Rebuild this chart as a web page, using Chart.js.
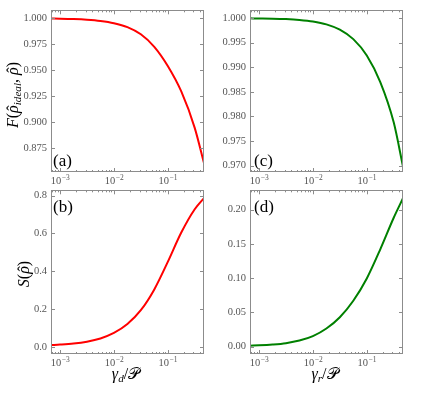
<!DOCTYPE html>
<html>
<head>
<meta charset="utf-8">
<script src="https://cdn.jsdelivr.net/npm/chart.js@4"></script>
<style>
  body { margin: 0; background: #fff; }
  #fig { position: relative; width: 424px; height: 394px; overflow: hidden; font-family: 'Liberation Serif', serif; }
  .box { position: absolute; }
  .lbl { position: absolute; white-space: nowrap; font-size: 16px; color: #000; line-height: 1; }
  .rot { transform: translate(-50%, -50%) rotate(-90deg); }
  .ctr { transform: translate(-50%, -50%); }
  .tag { position: absolute; font-size: 17px; line-height: 1; }
  sub { font-size: 70%; vertical-align: -0.3em; }
  .hat { position: relative; display: inline-block; }
  .hat .h { position: absolute; left: 0.14em; top: -0.02em; font-style: normal; }
</style>
</head>
<body>
<div id="fig">
  <div class="box" style="left:0;top:0;width:212px;height:186px"><canvas id="chartA"></canvas></div>
  <div class="box" style="left:212px;top:0;width:212px;height:186px"><canvas id="chartC"></canvas></div>
  <div class="box" style="left:0;top:180px;width:212px;height:200px"><canvas id="chartB"></canvas></div>
  <div class="box" style="left:212px;top:180px;width:212px;height:200px"><canvas id="chartD"></canvas></div>

  <div class="lbl rot" style="left:14px;top:95px"><i>F</i>(<i class="hat">ρ<span class="h">ˆ</span></i><sub><i>ideal</i></sub>, <i class="hat">ρ<span class="h">ˆ</span></i>)</div>
  <div class="lbl rot" style="left:24px;top:274px"><i>S</i>(<i class="hat">ρ<span class="h">ˆ</span></i>)</div>
  <div class="lbl ctr" style="left:126px;top:375px"><i>γ</i><sub><i>d</i></sub>/𝒫</div>
  <div class="lbl ctr" style="left:325px;top:375px"><i>γ</i><sub><i>r</i></sub>/𝒫</div>

  <div class="tag" style="left:53px;top:152px">(a)</div>
  <div class="tag" style="left:53px;top:198px">(b)</div>
  <div class="tag" style="left:254px;top:152px">(c)</div>
  <div class="tag" style="left:254px;top:198px">(d)</div>
</div>
<script>
// x values: gamma / P (log axis)
const gamma = [0.00068, 0.001, 0.00178, 0.00316, 0.00562, 0.01, 0.0178, 0.0316, 0.0562, 0.1, 0.178, 0.316, 0.47];

// (a) fidelity, dephasing
const fidelityDeph = [0.99969, 0.99954, 0.99917, 0.99851, 0.99733, 0.9952, 0.99137, 0.98452, 0.97246, 0.9540, 0.9295, 0.8945, 0.8606];
// (b) entropy, dephasing
const entropyDeph = [0.011, 0.0135, 0.019, 0.029, 0.046, 0.075, 0.122, 0.195, 0.305, 0.450, 0.605, 0.728, 0.787];
// (c) fidelity, relaxation
const fidelityRel = [0.99996, 0.99994, 0.9999, 0.99981, 0.99964, 0.99933, 0.99874, 0.99766, 0.99573, 0.9924, 0.987, 0.9788, 0.9698];
// (d) entropy, relaxation
const entropyRel = [0.0015, 0.002, 0.0032, 0.0052, 0.009, 0.0155, 0.0265, 0.043, 0.067, 0.0995, 0.142, 0.188, 0.2165];

const xMin = 0.00068, xMax = 0.47;
const decades = [-3, -2, -1];

Chart.defaults.font.family = "'Liberation Serif', serif";
Chart.defaults.animation = false;

// frame, inward ticks on all four sides, and 10^n labels
const frameTicks = {
    id: 'frameTicks',
    afterDraw(chart) {
        const { ctx, chartArea: a, scales: { x, y } } = chart;
        ctx.save();
        ctx.strokeStyle = '#8c8c8c';
        ctx.lineWidth = 1;
        ctx.strokeRect(Math.round(a.left) + 0.5, Math.round(a.top) + 0.5, Math.round(a.right - a.left) - 1, Math.round(a.bottom - a.top) - 1);
        ctx.beginPath();
        for (let e = -4; e <= 0; e++) {
            for (let k = 1; k <= 9; k++) {
                const v = k * Math.pow(10, e);
                if (v < x.min || v > x.max) continue;
                const px = Math.round(x.getPixelForValue(v)) + 0.5;
                const len = k === 1 ? 4 : 2;
                ctx.moveTo(px, a.bottom); ctx.lineTo(px, a.bottom - len);
                ctx.moveTo(px, a.top); ctx.lineTo(px, a.top + len);
            }
        }
        y.ticks.forEach(t => {
            const py = Math.round(y.getPixelForValue(t.value)) + 0.5;
            ctx.moveTo(a.left, py); ctx.lineTo(a.left + 4, py);
            ctx.moveTo(a.right, py); ctx.lineTo(a.right - 4, py);
        });
        ctx.stroke();

        // x tick labels 10^n
        ctx.fillStyle = '#555';
        ctx.textBaseline = 'alphabetic';
        ctx.textAlign = 'left';
        decades.forEach(e => {
            const px = x.getPixelForValue(Math.pow(10, e));
            const base = '10', sup = '\u2212' + Math.abs(e);
            ctx.font = "10.5px 'Liberation Serif'";
            const wb = ctx.measureText(base).width;
            ctx.font = "7.5px 'Liberation Serif'";
            const ws = ctx.measureText(sup).width;
            const left = px - (wb + ws) / 2;
            ctx.font = "10.5px 'Liberation Serif'";
            ctx.fillText(base, left, a.bottom + 12);
            ctx.font = "7.5px 'Liberation Serif'";
            ctx.fillText(sup, left + wb + 0.5, a.bottom + 8);
        });
        ctx.restore();
    }
};

function makePanel(id, values, color, yMin, yMax, step, digits, area) {
    new Chart(document.getElementById(id), {
        type: 'line',
        data: {
            labels: gamma,
            datasets: [{
                data: gamma.map((g, i) => ({ x: g, y: values[i] })),
                borderColor: color,
                borderWidth: 2,
                pointRadius: 0,
                cubicInterpolationMode: 'monotone',
                fill: false
            }]
        },
        options: {
            responsive: true,
            maintainAspectRatio: false,
            layout: { padding: { left: 0, top: area.top, right: area.right, bottom: 0 } },
            plugins: { legend: { display: false }, tooltip: { enabled: false } },
            scales: {
                x: {
                    type: 'logarithmic',
                    min: xMin,
                    max: xMax,
                    grid: { display: false, drawTicks: false },
                    border: { display: false },
                    ticks: { display: false },
                    afterFit: s => { s.height = area.xh; }
                },
                y: {
                    min: yMin,
                    max: yMax,
                    grid: { display: false, drawTicks: false },
                    border: { display: false },
                    ticks: {
                        stepSize: step,
                        includeBounds: false,
                        padding: 4,
                        color: '#555',
                        font: { size: 10.5 },
                        callback: v => Number(v).toFixed(digits)
                    },
                    afterFit: s => { s.width = area.left; }
                }
            }
        },
        plugins: [frameTicks]
    });
}

makePanel('chartA', fidelityDeph, '#ff0000', 0.852, 1.0076, 0.025, 3, { left: 51, top: 7, right: 8, xh: 14 });
makePanel('chartC', fidelityRel, '#008000', 0.9687, 1.0016, 0.005, 3, { left: 38, top: 7, right: 21, xh: 14 });
makePanel('chartB', entropyDeph, '#ff0000', -0.036, 0.828, 0.2, 1, { left: 51, top: 10, right: 8, xh: 26 });
makePanel('chartD', entropyRel, '#008000', -0.0106, 0.228, 0.05, 2, { left: 38, top: 10, right: 21, xh: 26 });
</script>
</body>
</html>
